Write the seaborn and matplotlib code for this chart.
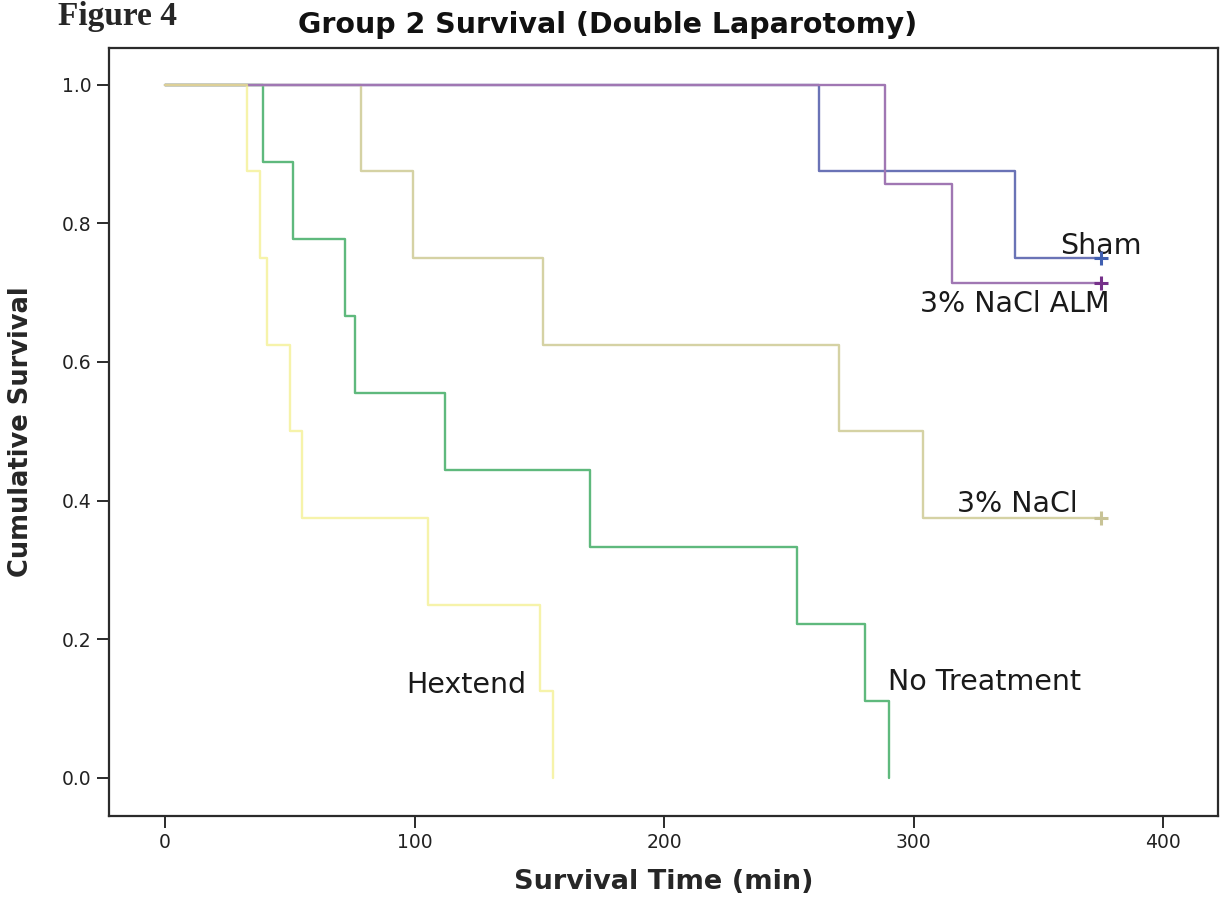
import matplotlib
matplotlib.use("Agg")
import matplotlib.pyplot as plt
import numpy as np
import pandas as pd
import seaborn as sns

# ---- data -------------------------------------------------------------
groups = ["Sham", "No Treatment", "3% NaCl", "3% NaCl ALM", "Hextend"]
group_sizes = [8, 9, 8, 7, 8]

# times of death (min) for each group; animals alive at end of study are censored
sham_deaths = [262.0, 340.5]
no_treatment_deaths = [39.3, 51.3, 72.1, 76.1, 112.2, 170.3, 253.2, 280.4, 290.1]
nacl_deaths = [78.4, 99.4, 151.4, 270.0, 303.7]
nacl_alm_deaths = [288.5, 315.3]
hextend_deaths = [32.7, 38.1, 40.7, 50.1, 54.9, 105.4, 150.2, 155.4]

end_of_study = 375.0

x_ticks = [0, 100, 200, 300, 400]
y_ticks = [0.0, 0.2, 0.4, 0.6, 0.8, 1.0]

deaths_by_group = dict(zip(groups, [sham_deaths, no_treatment_deaths, nacl_deaths,
                                    nacl_alm_deaths, hextend_deaths]))
size_by_group = dict(zip(groups, group_sizes))


def kaplan_meier(deaths, n, censor_time):
    """Return step coordinates of the KM estimate plus the censored point (if any)."""
    times, surv = [0.0], [1.0]
    s, at_risk = 1.0, n
    for t in sorted(deaths):
        s *= (at_risk - 1) / at_risk
        at_risk -= 1
        times.append(t)
        surv.append(s)
    censored = None
    if at_risk > 0:
        times.append(censor_time)
        surv.append(s)
        censored = (censor_time, s)
    return times, surv, censored


# ---- styling ----------------------------------------------------------
line_colors = {
    "Sham": "#6a73b6",
    "No Treatment": "#5fb97d",
    "3% NaCl": "#d5d2a4",
    "3% NaCl ALM": "#a077b3",
    "Hextend": "#f3ef8e",
}
marker_colors = {
    "Sham": "#3f5fb0",
    "3% NaCl": "#c8c396",
    "3% NaCl ALM": "#76318a",
}
label_pos = {
    "Sham": (374.8, 0.756),
    "3% NaCl ALM": (340.5, 0.672),
    "3% NaCl": (341.5, 0.384),
    "No Treatment": (328.3, 0.127),
    "Hextend": (120.6, 0.123),
}
draw_order = ["Sham", "No Treatment", "3% NaCl", "3% NaCl ALM", "Hextend"]
line_alpha = {"Hextend": 0.75}

sns.set_style("ticks")
plt.rcParams["font.family"] = ["DejaVu Sans"]

fig = plt.figure(figsize=(12.23, 9.01), dpi=100)
ax = fig.add_axes([109 / 1223, 1 - 816 / 901, (1218 - 109) / 1223, (816 - 48) / 901])

for g in draw_order:
    t, s, cens = kaplan_meier(deaths_by_group[g], size_by_group[g], end_of_study)
    df = pd.DataFrame({"time": t, "survival": s})
    sns.lineplot(data=df, x="time", y="survival", ax=ax, color=line_colors[g],
                 estimator=None, sort=False, drawstyle="steps-post",
                 linewidth=1.7, alpha=line_alpha.get(g, 1.0), legend=False)
    if cens is not None:
        sns.scatterplot(x=[cens[0]], y=[cens[1]], ax=ax, marker="+", s=90,
                        color=marker_colors[g], linewidth=2.2, zorder=5, legend=False)

for g, (lx, ly) in label_pos.items():
    ax.text(lx, ly, g, ha="center", va="baseline", fontsize=20.5, color="#1a1a1a")

ax.set_xlim(-22.4, 421.9)
ax.set_ylim(-0.055, 1.053)
ax.set_xticks(x_ticks)
ax.set_yticks(y_ticks)
ax.set_yticklabels([f"{v:.1f}" for v in y_ticks])

for sp in ax.spines.values():
    sp.set_visible(True)
    sp.set_color("#2b2b2b")
    sp.set_linewidth(1.6)
ax.tick_params(axis="both", direction="out", length=8.5, width=1.4, color="#2b2b2b",
               labelsize=13.5, labelcolor="#222222", pad=4)

ax.set_xlabel("Survival Time (min)", fontsize=19.5, fontweight="bold", labelpad=12)
ax.set_ylabel("Cumulative Survival", fontsize=18.5, fontweight="bold", labelpad=20)

fig.text(0.4965, 0.972, "Group 2 Survival (Double Laparotomy)", ha="center", va="center",
         fontsize=20.5, fontweight="bold", color="#111111")
fig.text(58 / 1223, 0.999, "Figure 4", ha="left", va="top",
         fontsize=24, fontweight="bold", family=["Liberation Serif", "DejaVu Serif"])

fig.savefig("out.png", dpi=100, facecolor="white")
